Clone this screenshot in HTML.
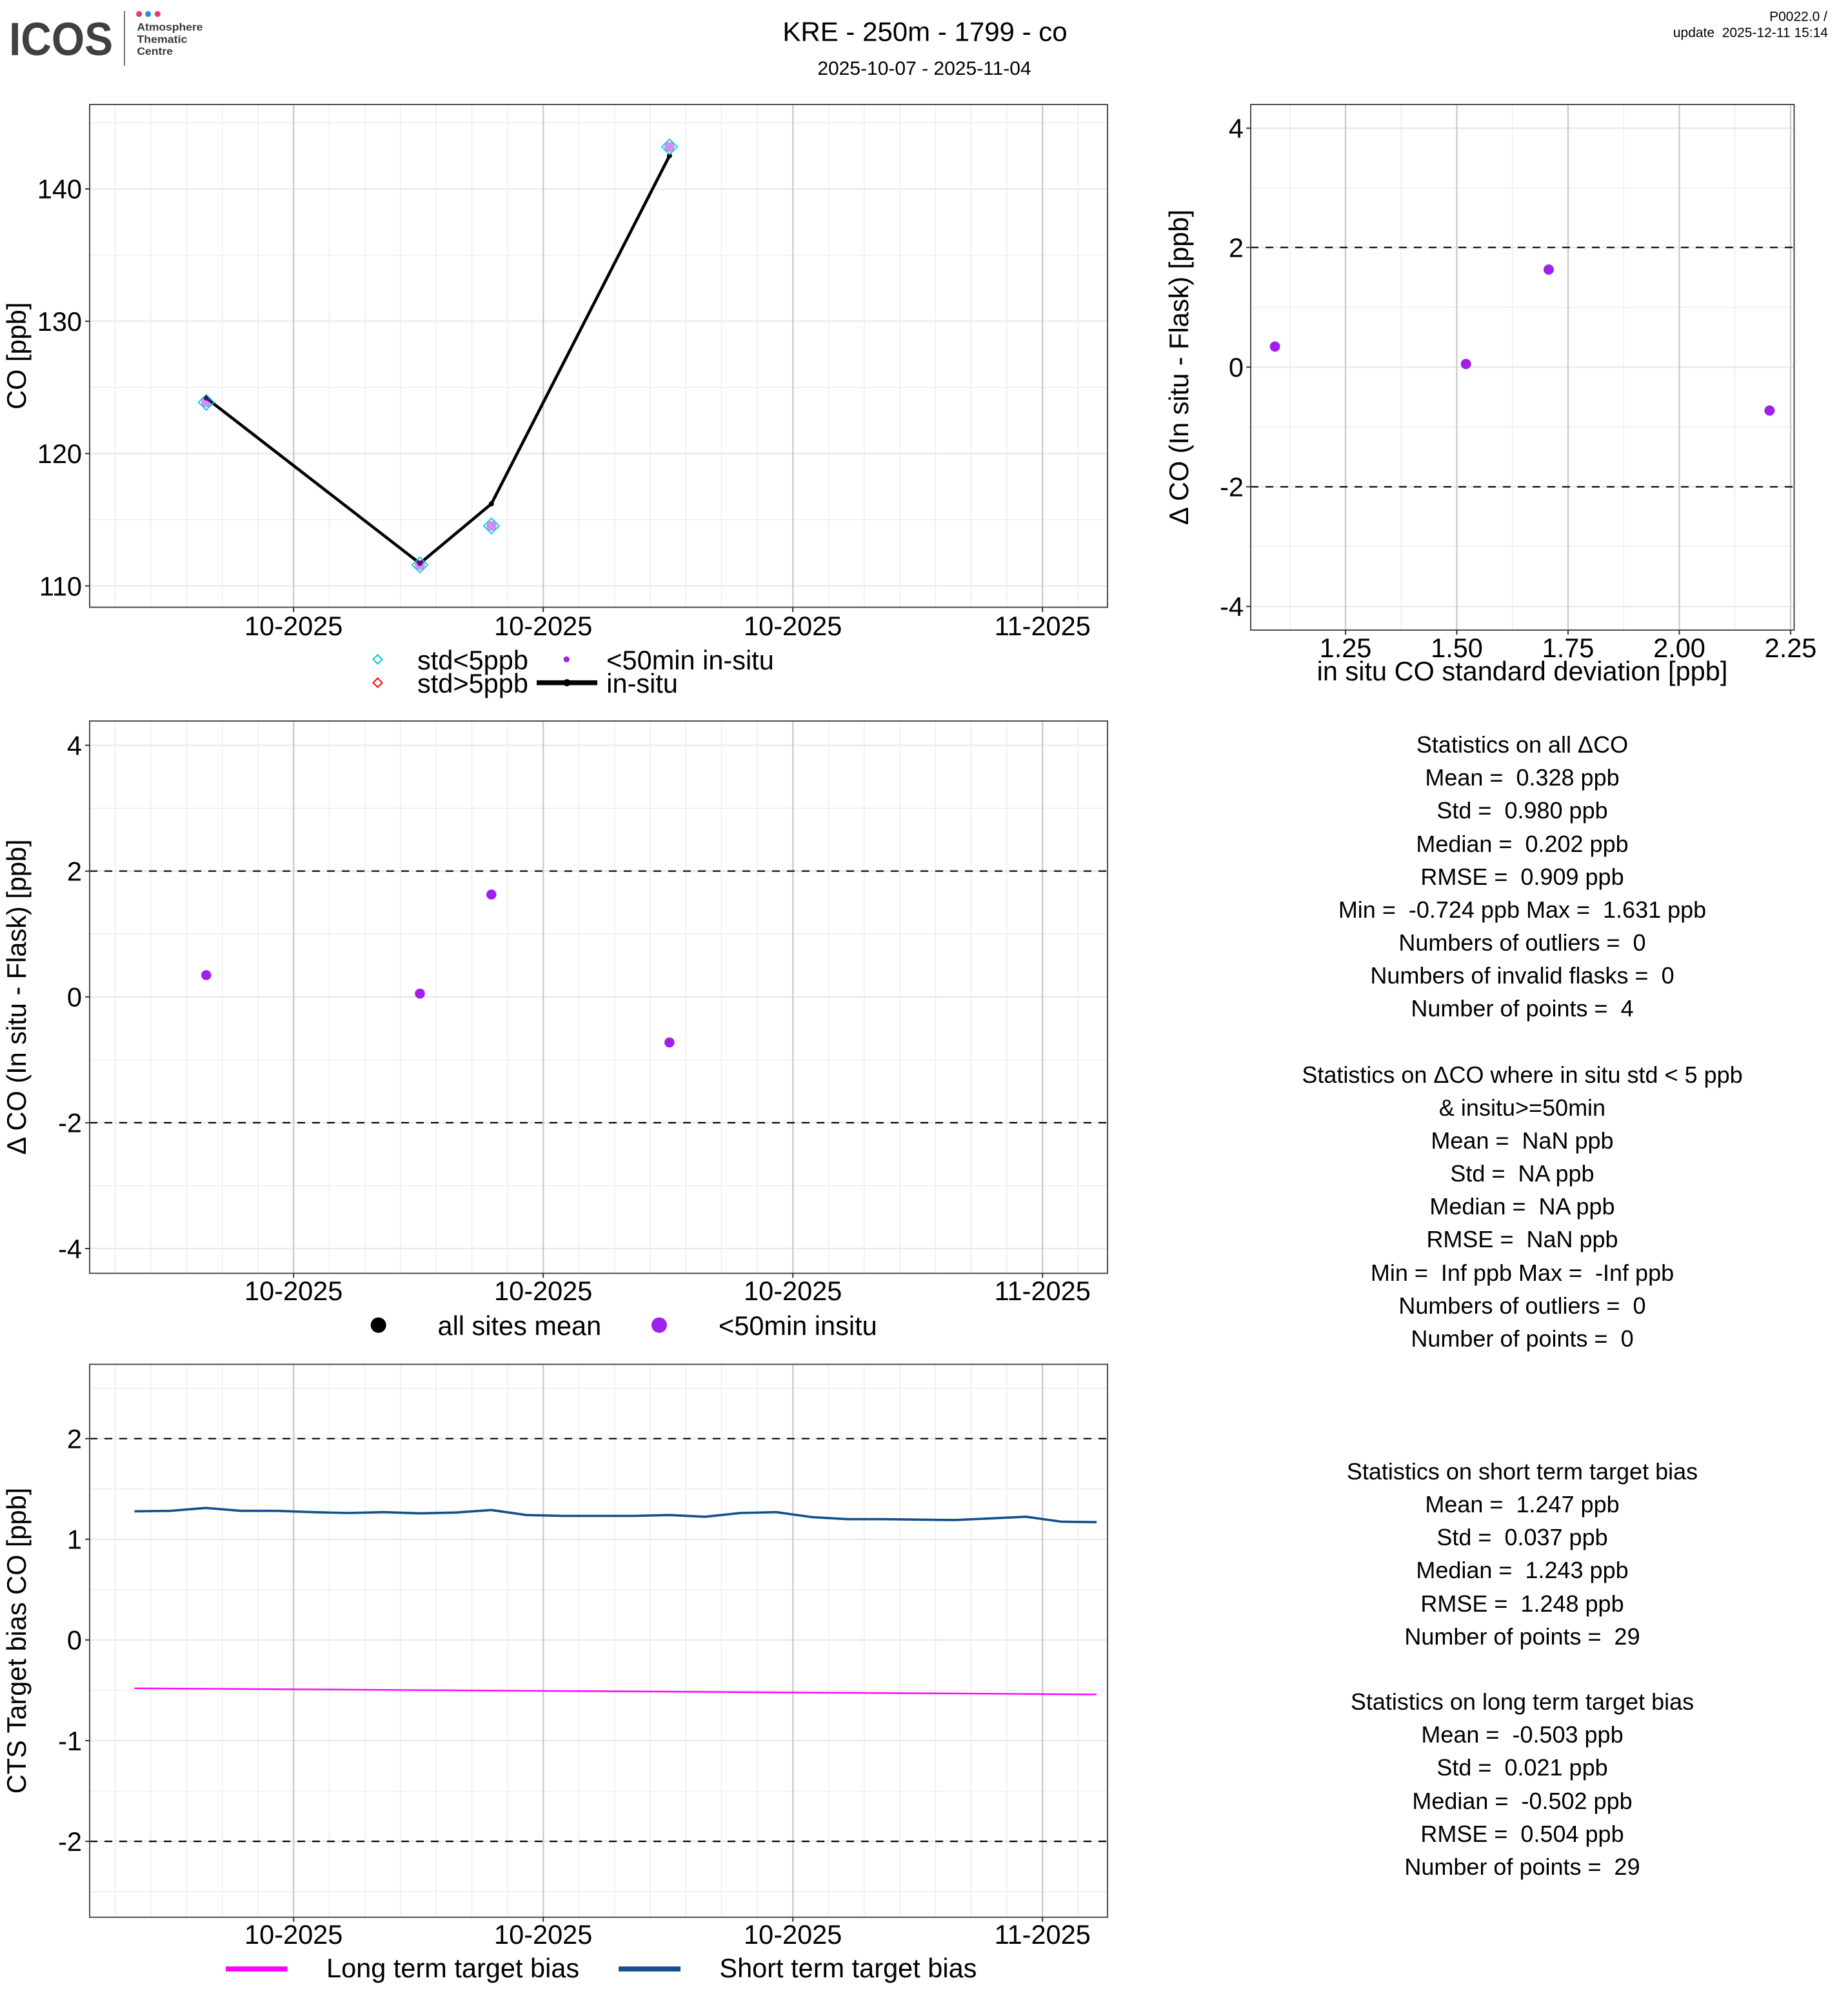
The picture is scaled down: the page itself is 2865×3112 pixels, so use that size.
<!DOCTYPE html>
<html>
<head>
<meta charset="utf-8">
<style>
html,body{margin:0;padding:0;background:#fff;}
svg{display:block;}
text{font-family:"Liberation Sans",Arial,sans-serif;fill:#000;}
.tk{font-size:41.5px;}
.ttl{font-size:41.5px;}
.st{font-size:36px;white-space:pre;}
</style>
</head>
<body>
<svg width="2865" height="3112" viewBox="0 0 2865 3112" xmlns="http://www.w3.org/2000/svg">
<rect x="0" y="0" width="2865" height="3112" fill="#fff"/>
<defs>
<path id="vmin" d="M178.8 0V1M234.1 0V1M289.3 0V1M344.6 0V1M399.9 0V1M510.5 0V1M565.8 0V1M621.1 0V1M676.3 0V1M731.6 0V1M786.9 0V1M897.5 0V1M952.8 0V1M1008.1 0V1M1063.3 0V1M1118.6 0V1M1173.9 0V1M1284.5 0V1M1339.8 0V1M1395.1 0V1M1450.3 0V1M1505.6 0V1M1560.9 0V1M1671.5 0V1"/>
<path id="vmaj" d="M455.2 0V1M842.2 0V1M1229.2 0V1M1616.2 0V1"/>
<path id="xtk" d="M455.2 0V7M842.2 0V7M1229.2 0V7M1616.2 0V7"/>
</defs>

<!-- ===== HEADER ===== -->
<text x="14" y="85.7" font-size="72" font-weight="bold" style="fill:#404040" textLength="161" lengthAdjust="spacingAndGlyphs">ICOS</text>
<line x1="193" y1="17" x2="193" y2="102" stroke="#555" stroke-width="1.6"/>
<circle cx="215.6" cy="21.7" r="4.6" fill="#e8386f"/>
<circle cx="229.6" cy="21.7" r="4.6" fill="#2a8fe2"/>
<circle cx="244.3" cy="21.7" r="4.6" fill="#e8386f"/>
<text x="212.4" y="47.5" font-size="16.5" font-weight="bold" style="fill:#3a3a3a" textLength="102" lengthAdjust="spacingAndGlyphs">Atmosphere</text>
<text x="212.4" y="66.5" font-size="16.5" font-weight="bold" style="fill:#3a3a3a" textLength="78" lengthAdjust="spacingAndGlyphs">Thematic</text>
<text x="212.4" y="85" font-size="16.5" font-weight="bold" style="fill:#3a3a3a" textLength="55.5" lengthAdjust="spacingAndGlyphs">Centre</text>

<text x="1434" y="63.5" font-size="42" text-anchor="middle">KRE - 250m - 1799 - co</text>
<text x="1433" y="116" font-size="30" text-anchor="middle">2025-10-07 - 2025-11-04</text>
<text x="2833" y="32.5" font-size="21" text-anchor="end">P0022.0 /</text>
<text x="2834" y="57.5" font-size="21" text-anchor="end" style="white-space:pre">update  2025-12-11 15:14</text>

<!-- ===== PANEL 1 ===== -->
<g>
<use href="#vmin" transform="translate(0,162) scale(1,779.6)" stroke="#ebebeb" stroke-width="1.3" fill="none"/>
<path d="M139 805.9H1717M139 600.7H1717M139 395.5H1717M139 190.3H1717" stroke="#ebebeb" stroke-width="1.3" fill="none"/>
<path d="M139 908.5H1717M139 703.3H1717M139 498.1H1717M139 292.9H1717" stroke="#ebebeb" stroke-width="2.6" fill="none"/>
<use href="#vmaj" transform="translate(0,162) scale(1,779.6)" stroke="#cccccc" stroke-width="2.4" fill="none"/>
<rect x="139" y="162" width="1578" height="779.6" fill="none" stroke="#4d4d4d" stroke-width="2"/>
<use href="#xtk" transform="translate(0,942)" stroke="#333" stroke-width="2"/>
<path d="M132 908.5H139M132 703.3H139M132 498.1H139M132 292.9H139" stroke="#333" stroke-width="2"/>
<text class="tk" x="127" y="923.3" text-anchor="end">110</text>
<text class="tk" x="127" y="718.1" text-anchor="end">120</text>
<text class="tk" x="127" y="512.9" text-anchor="end">130</text>
<text class="tk" x="127" y="307.7" text-anchor="end">140</text>
<text class="tk" x="455.2" y="985" text-anchor="middle">10-2025</text>
<text class="tk" x="842.2" y="985" text-anchor="middle">10-2025</text>
<text class="tk" x="1229.2" y="985" text-anchor="middle">10-2025</text>
<text class="tk" x="1616.2" y="985" text-anchor="middle">11-2025</text>
<text class="ttl" transform="translate(40,551.8) rotate(-90)" text-anchor="middle">CO [ppb]</text>
<polyline points="319.7,617.1 651,873.6 761.8,781.3 1037.9,241.6" fill="none" stroke="#000" stroke-width="4.6" stroke-linejoin="round"/>
<circle cx="319.7" cy="617.1" r="4" fill="#000"/>
<circle cx="651" cy="873.6" r="4" fill="#000"/>
<circle cx="761.8" cy="781.3" r="4" fill="#000"/>
<circle cx="1037.9" cy="241.6" r="4" fill="#000"/>
<g fill="none" stroke="#00ccd6" stroke-width="1.8">
<path d="M319.7 611.8L331.7 623.8L319.7 635.8L307.7 623.8Z"/>
<path d="M651 864L663 876L651 888L639 876Z"/>
<path d="M761.8 803.5L773.8 815.5L761.8 827.5L749.8 815.5Z"/>
<path d="M1037.9 215.6L1049.9 227.6L1037.9 239.6L1025.9 227.6Z"/>
</g>
<g fill="rgba(160,32,240,0.5)">
<circle cx="319.7" cy="623.8" r="7.8"/>
<circle cx="651" cy="876" r="7.8"/>
<circle cx="761.8" cy="815.5" r="7.8"/>
<circle cx="1037.9" cy="227.6" r="7.8"/>
</g>
<path d="M585.5 1015.4L592.5 1022.4L585.5 1029.4L578.5 1022.4Z" fill="none" stroke="#00ccd6" stroke-width="2"/>
<path d="M585.5 1051.6L592.5 1058.6L585.5 1065.6L578.5 1058.6Z" fill="none" stroke="#ff0000" stroke-width="2"/>
<text class="tk" x="647" y="1038">std&lt;5ppb</text>
<text class="tk" x="647" y="1074">std&gt;5ppb</text>
<circle cx="878.3" cy="1022.4" r="4.6" fill="#a020f0"/>
<line x1="832" y1="1058.6" x2="926" y2="1058.6" stroke="#000" stroke-width="7.5"/>
<circle cx="879" cy="1058.6" r="5.5" fill="#000"/>
<text class="tk" x="940.3" y="1038">&lt;50min in-situ</text>
<text class="tk" x="940.3" y="1074">in-situ</text>
</g>

<!-- ===== PANEL 2 ===== -->
<g>
<path d="M2000 162V977M2172.3 162V977M2344.8 162V977M2517.3 162V977M2689.8 162V977" stroke="#ebebeb" stroke-width="1.3" fill="none"/>
<path d="M1939 476.6H2781.5M1939 291.2H2781.5M1939 662H2781.5M1939 847.4H2781.5" stroke="#ebebeb" stroke-width="1.3" fill="none"/>
<path d="M1939 940.4H2781.5M1939 754.8H2781.5M1939 569.3H2781.5M1939 383.7H2781.5M1939 198.8H2781.5" stroke="#ebebeb" stroke-width="2.6" fill="none"/>
<path d="M2086 162V977M2258.5 162V977M2431 162V977M2603.5 162V977M2776 162V977" stroke="#cccccc" stroke-width="2.4" fill="none"/>
<path d="M1939 383.7H2781.5M1939 754.8H2781.5" stroke="#000" stroke-width="2.2" stroke-dasharray="12 11" fill="none"/>
<rect x="1939" y="162" width="842.5" height="815" fill="none" stroke="#4d4d4d" stroke-width="2"/>
<path d="M2086 977V984M2258.5 977V984M2431 977V984M2603.5 977V984M2776 977V984" stroke="#333" stroke-width="2"/>
<path d="M1932 940.4H1939M1932 754.8H1939M1932 569.3H1939M1932 383.7H1939M1932 198.8H1939" stroke="#333" stroke-width="2"/>
<text class="tk" x="1928" y="955.2" text-anchor="end">-4</text>
<text class="tk" x="1928" y="769.6" text-anchor="end">-2</text>
<text class="tk" x="1928" y="584.1" text-anchor="end">0</text>
<text class="tk" x="1928" y="398.5" text-anchor="end">2</text>
<text class="tk" x="1928" y="213.6" text-anchor="end">4</text>
<text class="tk" x="2086" y="1019" text-anchor="middle">1.25</text>
<text class="tk" x="2258.5" y="1019" text-anchor="middle">1.50</text>
<text class="tk" x="2431" y="1019" text-anchor="middle">1.75</text>
<text class="tk" x="2603.5" y="1019" text-anchor="middle">2.00</text>
<text class="tk" x="2776" y="1019" text-anchor="middle">2.25</text>
<text class="ttl" x="2360" y="1055" text-anchor="middle">in situ CO standard deviation [ppb]</text>
<text class="ttl" transform="translate(1842,569.5) rotate(-90)" text-anchor="middle">Δ CO (In situ - Flask) [ppb]</text>
<g fill="#a020f0">
<circle cx="1976.6" cy="537.4" r="8"/>
<circle cx="2272.7" cy="564.4" r="8"/>
<circle cx="2401" cy="418" r="8"/>
<circle cx="2743.4" cy="636.6" r="8"/>
</g>
</g>

<!-- ===== PANEL 3 ===== -->
<g>
<use href="#vmin" transform="translate(0,1118) scale(1,856.4)" stroke="#ebebeb" stroke-width="1.3" fill="none"/>
<path d="M139 1448.3H1717M139 1253.2H1717M139 1643.4H1717M139 1838.5H1717" stroke="#ebebeb" stroke-width="1.3" fill="none"/>
<path d="M139 1155.6H1717M139 1350.7H1717M139 1545.8H1717M139 1740.9H1717M139 1936H1717" stroke="#ebebeb" stroke-width="2.6" fill="none"/>
<use href="#vmaj" transform="translate(0,1118) scale(1,856.4)" stroke="#cccccc" stroke-width="2.4" fill="none"/>
<path d="M139 1350.7H1717M139 1740.9H1717" stroke="#000" stroke-width="2.2" stroke-dasharray="12 11" fill="none"/>
<rect x="139" y="1118" width="1578" height="856.4" fill="none" stroke="#4d4d4d" stroke-width="2"/>
<use href="#xtk" transform="translate(0,1974.4)" stroke="#333" stroke-width="2"/>
<path d="M132 1155.6H139M132 1350.7H139M132 1545.8H139M132 1740.9H139M132 1936H139" stroke="#333" stroke-width="2"/>
<text class="tk" x="127" y="1170.4" text-anchor="end">4</text>
<text class="tk" x="127" y="1365.5" text-anchor="end">2</text>
<text class="tk" x="127" y="1560.6" text-anchor="end">0</text>
<text class="tk" x="127" y="1755.7" text-anchor="end">-2</text>
<text class="tk" x="127" y="1950.8" text-anchor="end">-4</text>
<text class="tk" x="455.2" y="2016" text-anchor="middle">10-2025</text>
<text class="tk" x="842.2" y="2016" text-anchor="middle">10-2025</text>
<text class="tk" x="1229.2" y="2016" text-anchor="middle">10-2025</text>
<text class="tk" x="1616.2" y="2016" text-anchor="middle">11-2025</text>
<text class="ttl" transform="translate(40,1546) rotate(-90)" text-anchor="middle">Δ CO (In situ - Flask) [ppb]</text>
<g fill="#a020f0">
<circle cx="319.7" cy="1512" r="7.8"/>
<circle cx="651" cy="1540.7" r="7.8"/>
<circle cx="761.8" cy="1387" r="7.8"/>
<circle cx="1037.9" cy="1616.4" r="7.8"/>
</g>
<circle cx="586.7" cy="2054.7" r="12" fill="#000"/>
<text class="tk" x="678.5" y="2070">all sites mean</text>
<circle cx="1022" cy="2054.7" r="12" fill="#a020f0"/>
<text class="tk" x="1114" y="2070">&lt;50min insitu</text>
</g>

<!-- ===== PANEL 4 ===== -->
<g>
<use href="#vmin" transform="translate(0,2115.5) scale(1,857.3)" stroke="#ebebeb" stroke-width="1.3" fill="none"/>
<path d="M139 2152.7H1717M139 2308.8H1717M139 2464.9H1717M139 2621H1717M139 2777.1H1717M139 2933.2H1717" stroke="#ebebeb" stroke-width="1.3" fill="none"/>
<path d="M139 2230.7H1717M139 2386.8H1717M139 2542.9H1717M139 2699H1717M139 2855.1H1717" stroke="#ebebeb" stroke-width="2.6" fill="none"/>
<use href="#vmaj" transform="translate(0,2115.5) scale(1,857.3)" stroke="#cccccc" stroke-width="2.4" fill="none"/>
<path d="M139 2230.7H1717M139 2855.1H1717" stroke="#000" stroke-width="2.2" stroke-dasharray="12 11" fill="none"/>
<polyline points="208.4,2343.4 263.7,2342.7 319,2338.2 374.3,2342.7 429.5,2342.7 484.8,2344.7 540.1,2346 595.4,2344.7 650.7,2346.6 706,2345.3 761.3,2341.4 816.5,2349.2 871.8,2350.5 927.1,2350.5 982.4,2350.5 1037.7,2349.2 1093,2351.8 1148.3,2346 1203.5,2344.7 1258.8,2352.4 1314.1,2355.6 1369.4,2355.6 1424.7,2356.3 1480,2356.9 1535.3,2354.4 1590.6,2351.8 1645.8,2359.5 1700,2360.2" fill="none" stroke="#11508c" stroke-width="3.6" stroke-linejoin="round"/>
<line x1="208.4" y1="2617.8" x2="1700" y2="2627.3" stroke="#ff00ff" stroke-width="2.4"/>
<rect x="139" y="2115.5" width="1578" height="857.3" fill="none" stroke="#4d4d4d" stroke-width="2"/>
<use href="#xtk" transform="translate(0,2972.8)" stroke="#333" stroke-width="2"/>
<path d="M132 2230.7H139M132 2386.8H139M132 2542.9H139M132 2699H139M132 2855.1H139" stroke="#333" stroke-width="2"/>
<text class="tk" x="127" y="2245.5" text-anchor="end">2</text>
<text class="tk" x="127" y="2401.6" text-anchor="end">1</text>
<text class="tk" x="127" y="2557.7" text-anchor="end">0</text>
<text class="tk" x="127" y="2713.8" text-anchor="end">-1</text>
<text class="tk" x="127" y="2869.9" text-anchor="end">-2</text>
<text class="tk" x="455.2" y="3014" text-anchor="middle">10-2025</text>
<text class="tk" x="842.2" y="3014" text-anchor="middle">10-2025</text>
<text class="tk" x="1229.2" y="3014" text-anchor="middle">10-2025</text>
<text class="tk" x="1616.2" y="3014" text-anchor="middle">11-2025</text>
<text class="ttl" transform="translate(40,2544) rotate(-90)" text-anchor="middle">CTS Target bias CO [ppb]</text>
<line x1="350" y1="3053" x2="445.5" y2="3053" stroke="#ff00ff" stroke-width="7.7"/>
<text class="tk" x="506" y="3066">Long term target bias</text>
<line x1="959" y1="3053" x2="1055" y2="3053" stroke="#11508c" stroke-width="7.7"/>
<text class="tk" x="1115.4" y="3066">Short term target bias</text>
</g>

<!-- ===== STATISTICS ===== -->
<g text-anchor="middle">
<text class="st" x="2360" y="1167">Statistics on all ΔCO</text>
<text class="st" x="2360" y="1218">Mean =  0.328 ppb</text>
<text class="st" x="2360" y="1269">Std =  0.980 ppb</text>
<text class="st" x="2360" y="1321">Median =  0.202 ppb</text>
<text class="st" x="2360" y="1372">RMSE =  0.909 ppb</text>
<text class="st" x="2360" y="1423">Min =  -0.724 ppb Max =  1.631 ppb</text>
<text class="st" x="2360" y="1474">Numbers of outliers =  0</text>
<text class="st" x="2360" y="1525">Numbers of invalid flasks =  0</text>
<text class="st" x="2360" y="1576">Number of points =  4</text>

<text class="st" x="2360" y="1679">Statistics on ΔCO where in situ std &lt; 5 ppb</text>
<text class="st" x="2360" y="1730">&amp; insitu&gt;=50min</text>
<text class="st" x="2360" y="1781">Mean =  NaN ppb</text>
<text class="st" x="2360" y="1832">Std =  NA ppb</text>
<text class="st" x="2360" y="1883">Median =  NA ppb</text>
<text class="st" x="2360" y="1934">RMSE =  NaN ppb</text>
<text class="st" x="2360" y="1986">Min =  Inf ppb Max =  -Inf ppb</text>
<text class="st" x="2360" y="2037">Numbers of outliers =  0</text>
<text class="st" x="2360" y="2088">Number of points =  0</text>

<text class="st" x="2360" y="2294">Statistics on short term target bias</text>
<text class="st" x="2360" y="2345">Mean =  1.247 ppb</text>
<text class="st" x="2360" y="2396">Std =  0.037 ppb</text>
<text class="st" x="2360" y="2447">Median =  1.243 ppb</text>
<text class="st" x="2360" y="2499">RMSE =  1.248 ppb</text>
<text class="st" x="2360" y="2550">Number of points =  29</text>

<text class="st" x="2360" y="2651">Statistics on long term target bias</text>
<text class="st" x="2360" y="2702">Mean =  -0.503 ppb</text>
<text class="st" x="2360" y="2753">Std =  0.021 ppb</text>
<text class="st" x="2360" y="2805">Median =  -0.502 ppb</text>
<text class="st" x="2360" y="2856">RMSE =  0.504 ppb</text>
<text class="st" x="2360" y="2907">Number of points =  29</text>
</g>
</svg>
</body>
</html>
